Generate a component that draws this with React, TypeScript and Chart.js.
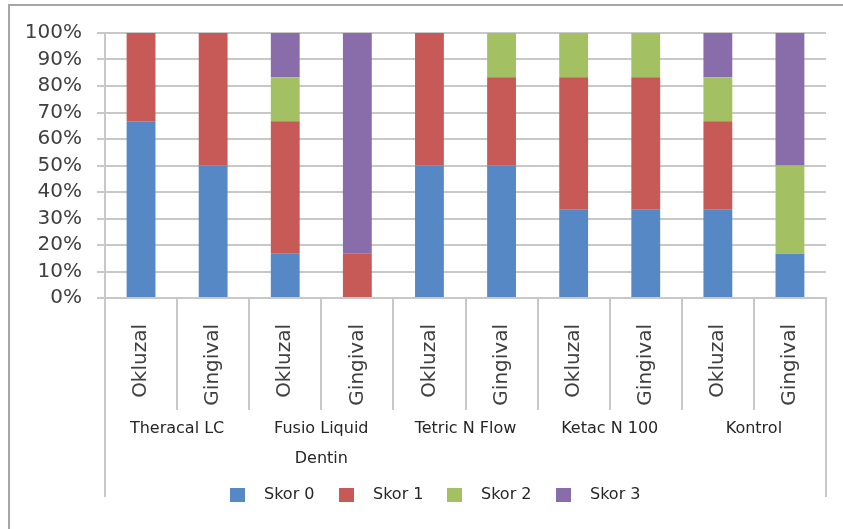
import React, { useEffect, useRef } from 'react';
import { Chart, registerables } from 'chart.js';

Chart.register(...registerables);

const subLabels = ['Okluzal', 'Gingival', 'Okluzal', 'Gingival', 'Okluzal', 'Gingival', 'Okluzal', 'Gingival', 'Okluzal', 'Gingival'];
const groupLabels = [['Theracal LC'], ['Fusio Liquid', 'Dentin'], ['Tetric N Flow'], ['Ketac N 100'], ['Kontrol']];
const seriesNames = ['Skor 0', 'Skor 1', 'Skor 2', 'Skor 3'];
const seriesColors = ['#5588C5', '#C75A56', '#A3C063', '#896DAA'];

const skor0 = [66.67, 50, 16.67, 0, 50, 50, 33.33, 33.33, 33.33, 16.67];
const skor1 = [33.33, 50, 50, 16.67, 50, 33.33, 50, 50, 33.33, 0];
const skor2 = [0, 0, 16.67, 0, 0, 16.67, 16.67, 16.67, 16.67, 33.33];
const skor3 = [0, 0, 16.66, 83.33, 0, 0, 0, 0, 16.67, 50];
const seriesValues = [skor0, skor1, skor2, skor3];

const FONT = "'DejaVu Sans', sans-serif";
const GRID = '#c8c8c8';

const decorPlugin = {
  id: 'decor',
  beforeDraw(chart: any) {
    const ctx = chart.ctx;
    ctx.save();
    ctx.strokeStyle = '#a6a6a6';
    ctx.lineWidth = 2;
    ctx.strokeRect(9, 5, chart.width + 40, chart.height + 40);
    ctx.restore();
  },
  afterDraw(chart: any) {
    const ctx = chart.ctx;
    const { left, right, bottom } = chart.chartArea;
    ctx.save();
    ctx.strokeStyle = GRID;
    ctx.lineWidth = 2;
    [Math.round(left), Math.round(right)].forEach((x) => {
      ctx.beginPath();
      ctx.moveTo(x, bottom);
      ctx.lineTo(x, 497);
      ctx.stroke();
    });
    // legend
    ctx.font = `16px ${FONT}`;
    ctx.textBaseline = 'middle';
    ctx.textAlign = 'left';
    chart.data.datasets.forEach((ds: any, i: number) => {
      const bx = 230 + i * 108.5;
      ctx.fillStyle = ds.backgroundColor;
      ctx.fillRect(Math.round(bx), 488, 15, 14);
      ctx.fillStyle = '#262626';
      ctx.fillText(ds.label, Math.round(bx) + 34, 495);
    });
    ctx.restore();
  },
};

export default function App() {
  const ref = useRef<HTMLCanvasElement>(null);
  useEffect(() => {
    if (!ref.current) return;
    const chart = new Chart(ref.current, {
      type: 'bar',
      data: {
        labels: subLabels,
        datasets: seriesNames.map((name, i) => ({
          label: name,
          data: seriesValues[i],
          backgroundColor: seriesColors[i],
          borderWidth: 0,
          categoryPercentage: 1,
          barPercentage: 0.4,
        })),
      },
      options: {
        animation: false,
        responsive: true,
        maintainAspectRatio: false,
        devicePixelRatio: 1,
        layout: { padding: { top: 33, right: 17, left: 0, bottom: 0 } },
        plugins: { legend: { display: false }, tooltip: { enabled: false }, title: { display: false } },
        scales: {
          y: {
            stacked: true,
            min: 0,
            max: 100,
            afterFit: (s: any) => { s.width = 105; },
            ticks: {
              stepSize: 10,
              autoSkip: false,
              callback: (v: any) => `${v}%`,
              font: { family: FONT, size: 20 },
              color: '#404040',
              padding: 15,
            },
            grid: { color: GRID, lineWidth: 2, tickLength: 8, drawTicks: true },
            border: { display: true, color: GRID, width: 2 },
          },
          x: {
            stacked: true,
            position: 'bottom',
            weight: 0,
            offset: true,
            afterFit: (s: any) => { s.height = 116; },
            ticks: {
              autoSkip: false,
              minRotation: 90,
              maxRotation: 90,
              font: { family: FONT, size: 20 },
              color: '#404040',
              padding: -86,
            },
            grid: { display: true, drawOnChartArea: false, drawTicks: true, tickLength: 112, offset: true, color: GRID, lineWidth: 2 },
            border: { display: true, color: GRID, width: 2 },
          },
          x2: {
            type: 'category',
            labels: groupLabels as any,
            position: 'bottom',
            weight: 1,
            offset: true,
            afterFit: (s: any) => { s.height = 115; },
            ticks: {
              autoSkip: false,
              maxRotation: 0,
              minRotation: 0,
              font: { family: FONT, size: 16, lineHeight: 1.875 },
              color: '#262626',
              padding: 0,
            },
            grid: { display: false, drawTicks: false },
            border: { display: false },
          },
        },
      } as any,
      plugins: [decorPlugin],
    });
    return () => chart.destroy();
  }, []);
  return (
    <div style={{ position: 'absolute', left: 0, top: 0, width: 843, height: 529, overflow: 'hidden', background: '#fff' }}>
      <canvas ref={ref} />
    </div>
  );
}
